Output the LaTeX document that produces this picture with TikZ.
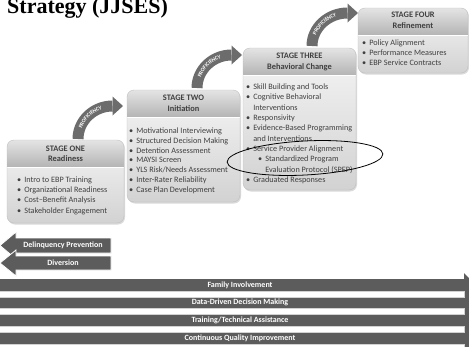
\documentclass[tikz,border=0pt]{standalone}
\usepackage{fontspec}
\setmainfont{Carlito}
\newfontfamily\titlefont{Liberation Serif}
\usepackage{tikz}
\usetikzlibrary{decorations.text}
\definecolor{box_edge}{RGB}{192,192,192}
\definecolor{box_top}{RGB}{245,245,245}
\definecolor{box_bot}{RGB}{210,210,210}
\definecolor{head_top}{RGB}{228,228,228}
\definecolor{head_bot}{RGB}{180,180,180}
\definecolor{shadow_gray}{RGB}{218,218,218}
\definecolor{text_gray}{RGB}{64,64,64}
\definecolor{arrow_gray}{RGB}{92,92,92}
\definecolor{prof_gray}{RGB}{108,108,108}
\newcommand\bul{\textbullet\hspace{3pt}}
\newcommand\cont{\phantom{\textbullet}\hspace{3pt}}
\newcommand\subbul{\hspace*{12pt}\textbullet\hspace{3pt}}
% stage box: name, x, y, width, height
\newcommand\stagebox[5]{%
  \fill[shadow_gray,rounded corners=7] (#2+1,#3+1.5) rectangle ++(#4,#5);
  \shade[top color=box_top,bottom color=box_bot,rounded corners=7] (#2,#3) rectangle ++(#4,#5);
  \begin{scope}
    \clip[rounded corners=7] (#2,#3) rectangle ++(#4,#5);
    \shade[top color=head_top,bottom color=head_bot] (#2,#3) rectangle ++(#4,27);
    \draw[white,line width=0.8] (#2,#3+27) -- ++(#4,0);
  \end{scope}
  \draw[box_edge,rounded corners=7] (#2,#3) rectangle ++(#4,#5);
  \coordinate (#1) at (#2,#3);
}
% proficiency arrow: base x, base y, head x, head y
\newcommand\profarrow[4]{%
  \draw[prof] (#1,#2) .. controls (#1,{#4+0.45*(#2-#4)}) and ({#1+0.45*(#3-#1)},#4) .. (#3,#4);
  \fill[prof_gray] (#3,#4-9.5) -- (#3+10.5,#4) -- (#3,#4+9.5) -- cycle;
  \path[decorate,decoration={text along path,text align=center,raise=-1.9pt,text color=white,
    text={|\bfseries\fontsize{5.5}{6}\selectfont|PROFICIENCY}}]
    (#1,#2) .. controls (#1,{#4+0.45*(#2-#4)}) and ({#1+0.45*(#3-#1)},#4) .. (#3,#4);
}

\begin{document}
\begin{tikzpicture}[x=1pt,y=-1pt]
    \tikzstyle{head}=[align=center, font=\bfseries\fontsize{8.4}{10.5}\selectfont, text=text_gray, inner sep=0]
    \tikzstyle{list}=[align=left, anchor=north west, text=text_gray, inner sep=0]
    \tikzstyle{band}=[text=white, font=\bfseries\fontsize{8}{9}\selectfont, inner sep=0]
    \tikzstyle{prof}=[prof_gray, line width=11]

    \useasboundingbox[fill=white] (0,0) rectangle (469,346);

    \node[anchor=base west, inner sep=0, font=\titlefont\bfseries\fontsize{22}{24}\selectfont] (title) at (7,13) {Strategy (JJSES)};

    % stages
    \stagebox{s1}{7}{140}{117}{83}
    \stagebox{s2}{127}{90}{113}{112}
    \stagebox{s3}{243}{48}{113}{142}
    \stagebox{s4}{358}{8}{110}{65}

    \profarrow{78}{139}{112.5}{106}
    \profarrow{197}{88}{231.5}{55}
    \profarrow{312}{46}{347.5}{13}

    \node[head] (h1) at (65.5,154) {STAGE ONE\\Readiness};
    \node[head] (h2) at (183.5,103.5) {STAGE TWO\\Initiation};
    \node[head] (h3) at (299.5,62) {STAGE THREE\\Behavioral Change};
    \node[head] (h4) at (413,20.5) {STAGE FOUR\\Refinement};

    \node[list, font=\fontsize{8.2}{10.3}\selectfont] (l1) at (17,176.5)
      {\bul Intro to EBP Training\\\bul Organizational Readiness\\\bul Cost--Benefit Analysis\\\bul Stakeholder Engagement};
    \node[list, font=\fontsize{8.2}{9.85}\selectfont] (l2) at (129,127.5)
      {\bul Motivational Interviewing\\\bul Structured Decision Making\\\bul Detention Assessment\\\bul MAYSI Screen\\
       \bul YLS Risk/Needs Assessment\\\bul Inter-Rater Reliability\\\bul Case Plan Development};
    \node[list, font=\fontsize{8.2}{10.33}\selectfont] (l3) at (246,83.5)
      {\bul Skill Building and Tools\\\bul Cognitive Behavioral\\\cont Interventions\\\bul Responsivity\\
       \bul Evidence-Based Programming\\\cont and Interventions\\\bul Service Provider Alignment\\
       \subbul Standardized Program\\\hspace*{12pt}\cont Evaluation Protocol (SPEP)\\\bul Graduated Responses};
    \node[list, font=\fontsize{8.2}{10}\selectfont] (l4) at (362,39.5)
      {\bul Policy Alignment\\\bul Performance Measures\\\bul EBP Service Contracts};

    \draw[line width=0.8, rotate around={3:(305,158)}] (305,158) ellipse [x radius=78, y radius=17];

    % left arrows
    \filldraw[arrow_gray, draw=white, line width=0.8] (111,238) -- (16,238) -- (16,232) -- (0,245.5) -- (16,259) -- (16,253) -- (111,253) -- cycle;
    \filldraw[arrow_gray, draw=white, line width=0.8] (111,256) -- (16,256) -- (16,250) -- (0,263) -- (16,276) -- (16,270) -- (111,270) -- cycle;
    \node[band] (dp) at (63,245.5) {Delinquency Prevention};
    \node[band] (dv) at (63,263) {Diversion};

    % bottom arrow
    \fill[arrow_gray] (0,279) -- (464,279) -- (464,273) -- (521,330) -- (464,400) -- (0,400) -- cycle;
    \foreach \yy in {290.8,308.5,326.2,343.9}
      \draw[gray!35, fill=white] (-1,\yy) rectangle (464,\yy+5.9);
    \foreach \nm/\yy/\lbl in {fam/285/{Family Involvement}, data/302.6/{Data-Driven Decision Making},
                               train/320.3/{Training/Technical Assistance}, cqi/338/{Continuous Quality Improvement}}
      \node[band] (\nm) at (240,\yy) {\lbl};
\end{tikzpicture}
\end{document}
